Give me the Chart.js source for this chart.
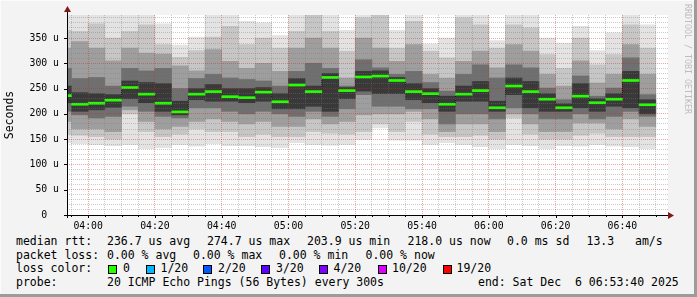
<!DOCTYPE html>
<html>
<head>
<meta charset="utf-8">
<script src="https://cdn.jsdelivr.net/npm/chart.js@4.4.1/dist/chart.umd.min.js"></script>
<style>
  html, body { margin: 0; padding: 0; background: #f3f3f3; }
  #wrap { position: relative; width: 697px; height: 297px; overflow: hidden; background: #f3f3f3; }
  #chart { position: absolute; left: 0; top: 0; }
  .t { position: absolute; font-family: "DejaVu Sans Mono", monospace; font-size: 11.5px; line-height: 14px; color: #000; white-space: pre; }
  .box { position: absolute; width: 9px; height: 9px; box-sizing: border-box; border: 1px solid #000; }
  #mark { position: absolute; left: 683px; top: 4px; writing-mode: vertical-rl; font-family: "DejaVu Sans Mono", monospace; font-size: 8.3px; color: #bdbdbd; white-space: pre; }
  .edge { position: absolute; }
</style>
</head>
<body>
<div id="wrap">
  <canvas id="chart" width="697" height="230"></canvas>
  <div id="mark">RRDTOOL / TOBI OETIKER</div>
  <div id="legend"></div>
  <div class="edge" style="left:0;top:0;width:697px;height:1px;background:#fbfbfb"></div>
  <div class="edge" style="left:0;top:0;width:1px;height:297px;background:#fbfbfb"></div>
  <div class="edge" style="left:0;top:294px;width:697px;height:3px;background:#9c9c9c"></div>
  <div class="edge" style="left:694px;top:0;width:3px;height:297px;background:#9c9c9c"></div>
</div>
<script>
// 5 minute rounds (end time of each round), first one is cut by the window
const roundEnds = ['03:55', '04:00', '04:05', '04:10', '04:15', '04:20', '04:25', '04:30', '04:35',
    '04:40', '04:45', '04:50', '04:55', '05:00', '05:05', '05:10', '05:15', '05:20', '05:25',
    '05:30', '05:35', '05:40', '05:45', '05:50', '05:55', '06:00', '06:05', '06:10', '06:15',
    '06:20', '06:25', '06:30', '06:35', '06:40', '06:45', '06:50'];

// median rtt in us
const median = [236, 219, 221, 227, 252, 239, 221, 203.9, 239, 244, 234, 232, 243, 224, 257, 244,
    272, 246, 273, 274.7, 266, 244, 240, 219, 239, 246, 212, 255, 244, 229, 212, 235, 222, 229, 266, 218.0];

// smoke bands, outer to inner (us)
const pMin = [143, 141, 139, 137, 139, 131, 133, 139, 136, 141, 137, 137, 135, 133, 143, 139, 138, 139,
    149, 172, 148, 148, 139, 143, 139, 135, 131, 139, 137, 131, 137, 136, 139, 136, 135, 131];
const pMax = [405, 405, 405, 403, 403, 405, 378, 336, 352, 405, 405, 383, 380, 355, 400, 405, 405, 365,
    400, 405, 365, 405, 338, 350, 405, 405, 345, 405, 405, 350, 340, 373, 325, 360, 405, 376];
const pLo2 = [160, 158, 155, 150, 200, 165, 155, 160, 170, 165, 165, 155, 160, 155, 155, 165, 162, 160,
    165, 180, 165, 185, 160, 155, 155, 158, 150, 192, 160, 150, 150, 158, 162, 155, 155, 155];
const pHi2 = [365, 363, 378, 350, 363, 376, 337, 312, 325, 352, 373, 337, 350, 330, 363, 395, 363, 324,
    390, 396, 330, 383, 324, 311, 390, 376, 330, 376, 370, 317, 290, 350, 297, 317, 376, 330];
const pLo3 = [185, 170, 170, 165, 208, 185, 170, 175, 185, 190, 185, 180, 185, 175, 175, 190, 180, 185,
    198, 200, 200, 205, 190, 165, 180, 180, 165, 200, 180, 165, 165, 182, 182, 170, 190, 175];
const pHi3 = [330, 343, 330, 305, 330, 320, 318, 295, 285, 327, 304, 290, 300, 284, 330, 350, 330, 271,
    350, 330, 304, 337, 278, 271, 304, 324, 291, 337, 324, 278, 255, 305, 261, 278, 337, 278];
const pLo4 = [205, 198, 192, 195, 215, 205, 195, 192, 212, 212, 205, 200, 205, 200, 195, 205, 195, 210,
    238, 215, 215, 210, 210, 180, 200, 200, 190, 212, 200, 190, 190, 200, 190, 195, 205, 195];
const pHi4 = [290, 270, 272, 255, 290, 285, 290, 250, 270, 278, 271, 268, 265, 255, 284, 300, 290, 255,
    307, 291, 278, 284, 262, 245, 278, 297, 271, 297, 291, 251, 228, 275, 235, 251, 311, 238];
const pLo5 = [222, 205, 208, 213, 230, 222, 205, 198, 228, 225, 225, 222, 225, 210, 210, 215, 205, 230,
    245, 240, 240, 228, 222, 205, 225, 225, 205, 238, 212, 205, 205, 212, 205, 215, 212, 200];
const pHi5 = [255, 242, 240, 238, 265, 262, 260, 225, 250, 258, 250, 250, 252, 240, 270, 255, 280, 252,
    284, 285, 272, 260, 250, 235, 255, 264, 225, 271, 264, 240, 220, 260, 230, 240, 284, 228];

const xTickLabels = ['04:00', '04:20', '04:40', '05:00', '05:20', '05:40', '06:00', '06:20', '06:40'];
const yTickLabels = ['0  ', '50 u', '100 u', '150 u', '200 u', '250 u', '300 u', '350 u'];
const yMax = 395.5;
const windowEnd = '06:53:40';
const windowHours = 3;

const lossLabels = ['0', '1/20', '2/20', '3/20', '4/20', '10/20', '19/20'];
const lossColors = ['#26ff00', '#00b8ff', '#0059ff', '#5e00ff', '#7e00ff', '#dd00ff', '#ff0000'];

// helpers
function toMin(s) {
    const p = s.split(':').map(Number);
    return p[0] * 60 + p[1] + (p[2] || 0) / 60;
}

const xMax = toMin(windowEnd);
const xMin = xMax - windowHours * 60;
const centers = roundEnds.map(t => toMin(t) - 2.5);

const grid5 = [];
for (let m = Math.ceil(xMin / 5) * 5; m < xMax; m += 5) grid5.push(m);
const grid10 = [];
for (let v = 0; v < yMax; v += 10) grid10.push(v);

const layers = [
    [pMin, pMax, '#e3e3e3'],
    [pLo2, pHi2, '#c6c6c6'],
    [pLo3, pHi3, '#9e9e9e'],
    [pLo4, pHi4, '#6f6f6f'],
    [pLo5, pHi5, '#393939']
];

const datasets = layers.map((l, i) => ({
    type: 'bar',
    data: centers.map((x, j) => ({ x: x, y: [l[0][j], l[1][j]] })),
    backgroundColor: l[2],
    grouped: false,
    barPercentage: 1,
    categoryPercentage: 1,
    borderWidth: 0,
    order: 20 - i
}));

datasets.push({
    type: 'line',
    data: centers.map((x, j) => ({ x: x, y: median[j] })),
    stepped: 'middle',
    borderColor: 'rgba(0,0,0,0.75)',
    borderWidth: 1,
    borderDash: [1, 1],
    pointRadius: 0,
    order: 3
});

datasets.push({
    type: 'bar',
    data: centers.map((x, j) => ({ x: x, y: [median[j] - 2, median[j] + 2] })),
    backgroundColor: lossColors[0],
    grouped: false,
    barPercentage: 1,
    categoryPercentage: 1,
    borderWidth: 0,
    order: 1
});

// white canvas, axes and arrows like rrdtool
const rrdFrame = {
    id: 'rrdFrame',
    beforeDraw(chart) {
        const a = chart.chartArea, c = chart.ctx;
        c.save();
        c.fillStyle = '#ffffff';
        c.fillRect(a.left, a.top, a.right - a.left, a.bottom - a.top);
        c.restore();
    },
    afterDraw(chart) {
        const a = chart.chartArea, c = chart.ctx;
        const xs = chart.scales.x, ys = chart.scales.y;
        c.save();
        c.strokeStyle = '#000';
        c.lineWidth = 1;
        c.beginPath();
        c.moveTo(a.left - 3, Math.round(a.bottom) + 0.5);
        c.lineTo(a.right + 3, Math.round(a.bottom) + 0.5);
        c.moveTo(Math.round(a.left) + 0.5, a.bottom + 3);
        c.lineTo(Math.round(a.left) + 0.5, a.top - 4);
        grid5.forEach(m => {
            const px = Math.round(xs.getPixelForValue(m)) + 0.5;
            c.moveTo(px, a.bottom);
            c.lineTo(px, a.bottom + (m % 20 === 0 ? 3 : 2));
        });
        grid10.forEach(v => {
            if (v % 50) return;
            const py = Math.round(ys.getPixelForValue(v)) + 0.5;
            c.moveTo(a.left - 3, py);
            c.lineTo(a.left, py);
        });
        c.stroke();
        c.fillStyle = '#7f1a1a';
        const bx = Math.round(a.left) + 0.5, by = Math.round(a.bottom) + 0.5;
        c.beginPath();
        c.moveTo(bx - 3.5, a.top - 3);
        c.lineTo(bx + 3.5, a.top - 3);
        c.lineTo(bx, a.top - 9);
        c.closePath();
        c.fill();
        c.beginPath();
        c.moveTo(a.right, by - 3.5);
        c.lineTo(a.right, by + 3.5);
        c.lineTo(a.right + 6, by);
        c.closePath();
        c.fill();
        c.restore();
    }
};

const minorGrid = 'rgba(120,120,120,0.38)';
const majorGrid = 'rgba(210,40,40,0.42)';

new Chart(document.getElementById('chart'), {
    type: 'bar',
    data: { datasets: datasets },
    plugins: [rrdFrame],
    options: {
        responsive: false,
        animation: false,
        devicePixelRatio: 1,
        layout: { padding: { left: 0, top: 15, right: 29, bottom: 0 } },
        plugins: { legend: { display: false }, tooltip: { enabled: false } },
        scales: {
            x: {
                type: 'linear',
                min: xMin,
                max: xMax,
                offset: false,
                grid: {
                    offset: false, z: 1, drawTicks: false, lineWidth: 1,
                    color: c => (c.tick && c.tick.value % 20 === 0) ? majorGrid : minorGrid
                },
                border: { display: false, dash: [1, 1] },
                ticks: {
                    autoSkip: false, maxRotation: 0, padding: 6, color: '#000',
                    font: { family: 'DejaVu Sans Mono', size: 9.8 },
                    callback: v => {
                        const i = xTickLabels.findIndex(s => toMin(s) === v);
                        return i >= 0 ? xTickLabels[i] : '';
                    }
                },
                afterBuildTicks: s => { s.ticks = grid5.map(v => ({ value: v })); },
                afterFit: s => { s.height = 15; }
            },
            y: {
                type: 'linear',
                min: 0,
                max: yMax,
                grid: {
                    z: 1, drawTicks: false, lineWidth: 1,
                    color: c => (c.tick && c.tick.value % 50 === 0) ? majorGrid : minorGrid
                },
                border: { display: false, dash: [1, 1] },
                title: {
                    display: true, text: 'Seconds', color: '#000',
                    font: { family: 'DejaVu Sans Mono', size: 11.5 },
                    padding: { top: 3, bottom: 0 }
                },
                ticks: {
                    autoSkip: false, padding: 8, color: '#000',
                    font: { family: 'DejaVu Sans Mono', size: 9.8 },
                    callback: v => (v % 50 === 0 && v / 50 < yTickLabels.length) ? yTickLabels[v / 50] : ''
                },
                afterBuildTicks: s => { s.ticks = grid10.map(v => ({ value: v })); },
                afterFit: s => { s.width = 67; }
            }
        }
    }
});

// legend below the graph
const legend = document.getElementById('legend');
function put(x, y, text) {
    const d = document.createElement('div');
    d.className = 't';
    d.style.left = x + 'px';
    d.style.top = y + 'px';
    d.textContent = text;
    legend.appendChild(d);
}
const rows = [
    [234, [[16, 'median rtt:'], [107, '236.7 us avg'], [207, '274.7 us max'], [307, '203.9 us min'],
        [407.5, '218.0 us now'], [507, '0.0 ms sd'], [586.5, '13.3'], [635, 'am/s']]],
    [247.5, [[16, 'packet loss:'], [107, '0.00 % avg'], [193, '0.00 % max'], [279, '0.00 % min'], [365.5, '0.00 % now']]],
    [261, [[16, 'loss color:']]],
    [275, [[16, 'probe:'], [107, '20 ICMP Echo Pings (56 Bytes) every 300s'], [478, 'end: Sat Dec  6 06:53:40 2025']]]
];
rows.forEach(r => r[1].forEach(it => put(it[0], r[0], it[1])));
const boxX = [108, 146, 203, 261, 319, 378, 443];
const labX = [123, 160.5, 218, 276, 333.5, 392, 456.5];
lossLabels.forEach((lab, i) => {
    const b = document.createElement('div');
    b.className = 'box';
    b.style.left = boxX[i] + 'px';
    b.style.top = '264.5px';
    b.style.background = lossColors[i];
    legend.appendChild(b);
    put(labX[i], 261, lab);
});
</script>
</body>
</html>
